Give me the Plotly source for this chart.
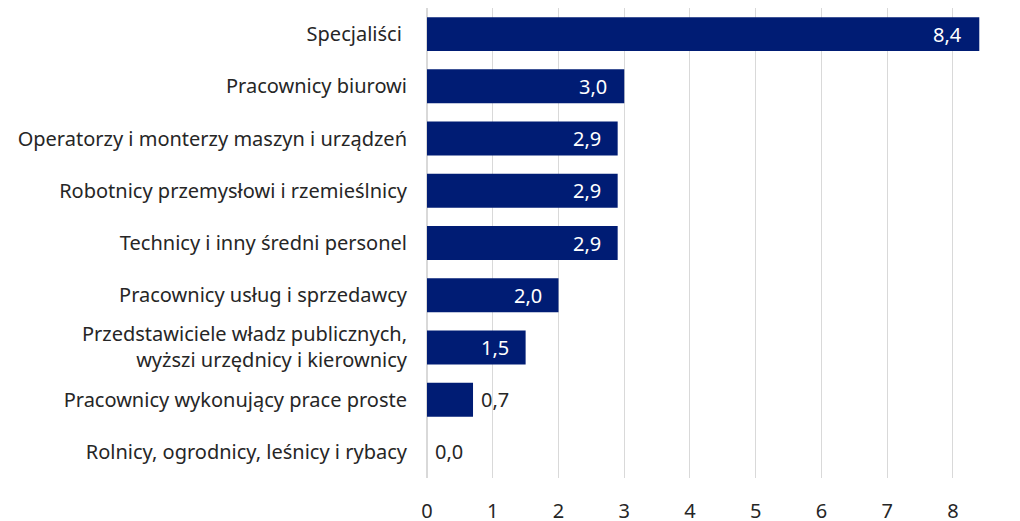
import plotly.graph_objects as go

categories = [
    "Specjaliści\u00a0",
    "Pracownicy biurowi",
    "Operatorzy i monterzy maszyn i urządzeń",
    "Robotnicy przemysłowi i rzemieślnicy",
    "Technicy i inny średni personel",
    "Pracownicy usług i sprzedawcy",
    "Przedstawiciele władz publicznych,<br>wyższi urzędnicy i kierownicy",
    "Pracownicy wykonujący prace proste",
    "Rolnicy, ogrodnicy, leśnicy i rybacy",
]
values = [8.4, 3.0, 2.9, 2.9, 2.9, 2.0, 1.5, 0.7, 0.0]
x_ticks = [0, 1, 2, 3, 4, 5, 6, 7, 8, 9]

labels = [f"{v:.1f}".replace(".", ",") for v in values]

fig = go.Figure(go.Bar(
    y=categories,
    x=values,
    orientation="h",
    marker=dict(color="#001C74", line=dict(width=0)),
    hoverinfo="skip",
))

for cat, v, lab in zip(categories, values, labels):
    inside = v >= 1.0
    fig.add_annotation(
        x=v, y=cat, xref="x", yref="y",
        text=lab, showarrow=False,
        xanchor="right" if inside else "left",
        xshift=-15 if inside else 6,
        font=dict(size=20, color="white" if inside else "#262626", family="Noto Sans"),
    )

fig.update_layout(
    width=1020,
    height=513,
    margin=dict(l=419, r=9, t=0, b=43),
    paper_bgcolor="white",
    plot_bgcolor="white",
    font=dict(family="Noto Sans", size=20, color="#262626"),
    bargap=0.35,
    showlegend=False,
)
fig.update_xaxes(
    range=[0, 9.004],
    tickvals=x_ticks,
    showgrid=True,
    gridcolor="#D9D9D9",
    gridwidth=1,
    zeroline=True,
    zerolinecolor="#D9D9D9",
    ticks="outside",
    ticklen=15,
    tickcolor="rgba(0,0,0,0)",
    tickfont=dict(size=20, color="#262626"),
    ticklabeloverflow="allow",
    automargin=False,
    fixedrange=True,
)
fig.update_yaxes(
    categoryorder="array",
    categoryarray=categories[::-1],
    ticks="outside",
    ticklen=15,
    tickcolor="rgba(0,0,0,0)",
    tickfont=dict(size=20, color="#262626"),
    showgrid=False,
    automargin=False,
    fixedrange=True,
)

fig.write_html("out.html")
